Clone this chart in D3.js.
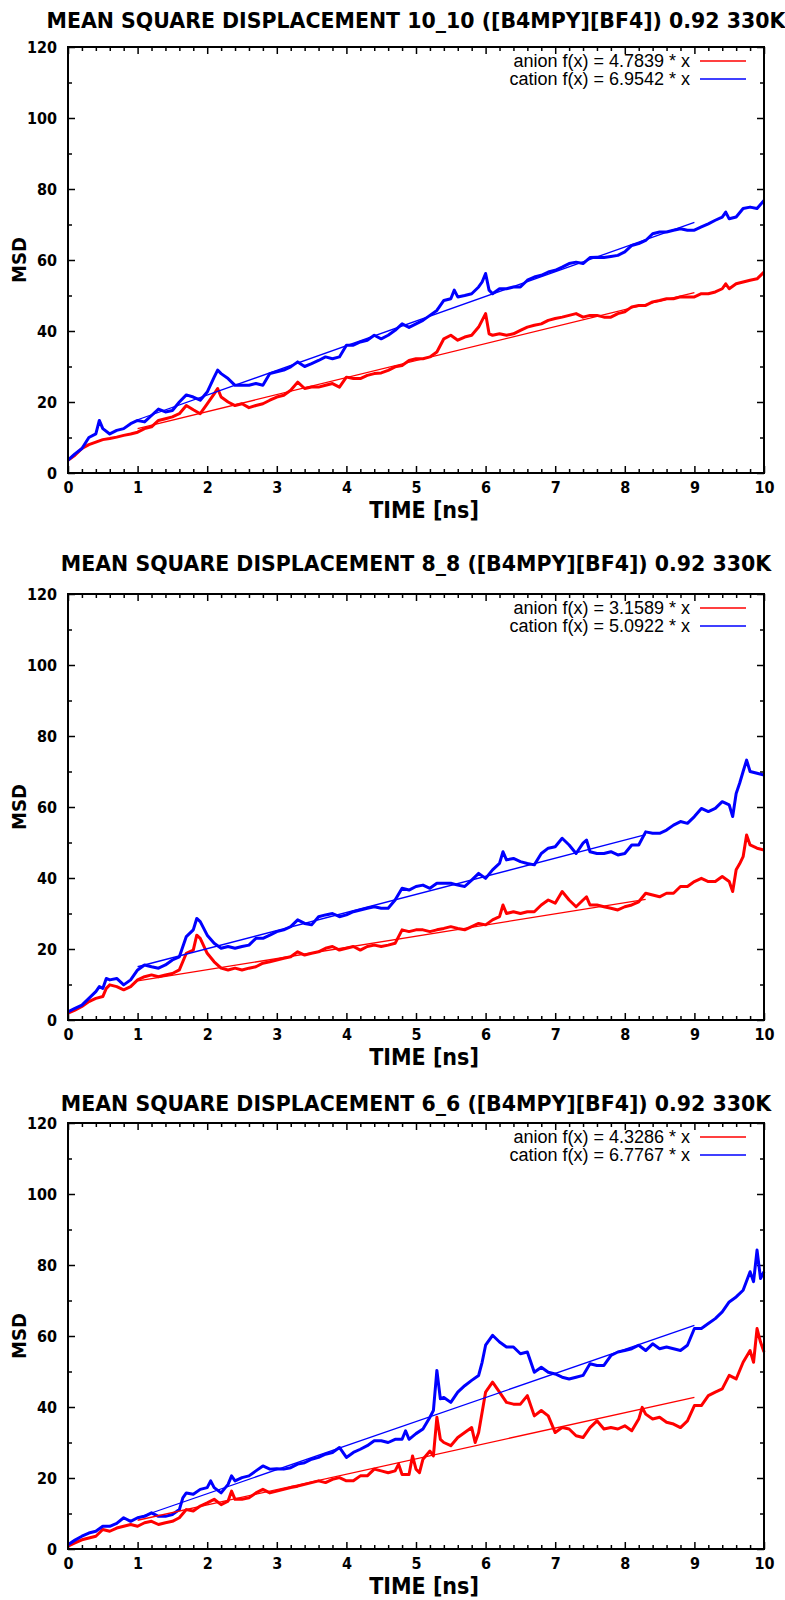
<!DOCTYPE html>
<html>
<head>
<meta charset="utf-8">
<script src="https://d3js.org/d3.v7.min.js"></script>
<style>
  body { margin: 0; background: #fff; }
  .frame { fill: none; stroke: #000; stroke-width: 2px; }
  .axis .domain { display: none; }
  .axis line { stroke: #000; stroke-width: 1.5px; }
  .axis text { font-family: "DejaVu Sans", sans-serif; font-stretch: condensed; font-weight: bold; font-size: 16px; fill: #000; }
  .title { font-family: "DejaVu Sans", sans-serif; font-weight: bold; font-size: 20.5px; }
  .label { font-family: "DejaVu Sans", sans-serif; font-stretch: condensed; font-weight: bold; font-size: 23px; }
  .ylabel { font-family: "DejaVu Sans", sans-serif; font-stretch: condensed; font-weight: bold; font-size: 20px; }
  .legend { font-family: "Liberation Sans", Arial, sans-serif; font-size: 18px; }
</style>
</head>
<body>
<svg id="chart" width="785" height="1600"></svg>
<script>
// ---- data: [time ns, MSD] ----
const xTicks = [0, 1, 2, 3, 4, 5, 6, 7, 8, 9, 10];
const yTicks = [0, 20, 40, 60, 80, 100, 120];

const anion10 = [[0,3.6],[0.1,5],[0.2,6.9],[0.3,8],[0.4,8.7],[0.5,9.4],[0.6,9.7],[0.7,10.1],[0.8,10.6],[0.9,11],
  [1,11.5],[1.1,12.5],[1.2,13],[1.3,14.8],[1.4,15.3],[1.5,15.8],[1.6,16.7],[1.7,19],[1.8,17.8],[1.9,16.7],
  [2,19.5],[2.1,22.3],[2.15,23.8],[2.2,21.4],[2.3,20],[2.4,19],[2.5,19.5],[2.6,18.4],[2.7,19],[2.8,19.5],[2.9,20.5],
  [3,21.4],[3.1,21.9],[3.2,23.3],[3.3,25.6],[3.4,23.8],[3.5,24.2],[3.6,24.2],[3.7,24.7],[3.8,25.2],[3.9,24.2],
  [4,27],[4.1,26.6],[4.2,26.6],[4.3,27.5],[4.4,28],[4.5,28.2],[4.6,28.9],[4.7,29.9],[4.8,30.3],[4.9,31.7],
  [5,32.2],[5.1,32.2],[5.2,32.7],[5.3,34.1],[5.4,37.8],[5.5,38.8],[5.6,37.4],[5.7,38.3],[5.8,38.8],[5.9,41.1],
  [6,44.9],[6.05,39.2],[6.1,38.8],[6.2,39.2],[6.3,38.8],[6.4,39.2],[6.5,40.2],[6.6,41.1],[6.7,41.6],[6.8,42],[6.9,43],
  [7,43.5],[7.1,43.9],[7.2,44.4],[7.3,44.9],[7.4,43.9],[7.5,44.4],[7.6,44.4],[7.7,43.9],[7.8,43.9],[7.9,44.9],
  [8,45.4],[8.1,46.8],[8.2,47.2],[8.3,47.2],[8.4,48.2],[8.5,48.6],[8.6,49.1],[8.7,49.1],[8.8,49.6],[8.9,49.6],
  [9,49.6],[9.1,50.5],[9.2,50.5],[9.3,51],[9.4,51.9],[9.45,53.3],[9.5,51.9],[9.6,53.3],[9.7,53.8],[9.8,54.3],[9.9,54.7],[10,56.6]];

const cation10 = [[0,3.6],[0.1,5.4],[0.2,6.9],[0.3,10],[0.4,11],[0.45,14.8],[0.5,12.5],[0.6,11],[0.7,12],[0.8,12.5],[0.9,13.9],
  [1,14.8],[1.1,14.4],[1.2,16.2],[1.3,18],[1.4,17.2],[1.5,17.6],[1.6,20],[1.7,22],[1.8,21.4],[1.9,20.5],
  [2,22.8],[2.1,27],[2.15,29],[2.2,28],[2.3,26.6],[2.4,24.7],[2.5,24.7],[2.6,24.7],[2.7,25.2],[2.8,24.7],[2.9,28],
  [3,28.5],[3.1,29],[3.2,29.9],[3.3,31.3],[3.4,30],[3.5,30.8],[3.6,31.7],[3.7,32.7],[3.8,32.2],[3.9,32.7],
  [4,36],[4.1,36],[4.2,36.9],[4.3,37.4],[4.4,38.8],[4.5,37.8],[4.6,38.8],[4.7,40.2],[4.8,42],[4.9,41],
  [5,42],[5.1,43],[5.2,44.4],[5.3,45.8],[5.4,48.6],[5.5,49.1],[5.55,51.5],[5.6,49.6],[5.7,50],[5.8,50.5],[5.9,52.4],[5.95,53.8],
  [6,56.2],[6.05,51.5],[6.1,50.5],[6.2,51.9],[6.3,51.9],[6.4,52.4],[6.5,52.4],[6.6,54.3],[6.7,55.2],[6.8,55.7],[6.9,56.6],
  [7,57.1],[7.1,58],[7.2,59],[7.3,59.4],[7.4,59],[7.5,60.7],[7.6,60.8],[7.7,60.7],[7.8,61],[7.9,61.3],
  [8,62.3],[8.1,64.1],[8.2,64.6],[8.3,65.5],[8.4,67.4],[8.5,67.9],[8.6,67.9],[8.7,68.4],[8.8,68.8],[8.9,68.4],
  [9,68.4],[9.1,69.3],[9.2,70.2],[9.3,71.2],[9.4,72.1],[9.45,73.5],[9.5,71.6],[9.6,72.1],[9.7,74.5],[9.8,74.9],[9.9,74.5],[10,76.8]];

const anion8 = [[0,1.9],[0.1,2.8],[0.2,3.8],[0.3,5.2],[0.4,6.1],[0.5,6.6],[0.55,8.9],[0.6,9.9],[0.7,9.4],[0.8,8.5],[0.9,9.4],
  [1,11.3],[1.1,12.2],[1.2,12.7],[1.3,12.2],[1.4,12.7],[1.5,13.1],[1.6,14.1],[1.7,18.8],[1.8,19.7],[1.85,23.9],[1.9,23],
  [2,18.8],[2.1,16.4],[2.2,14.6],[2.3,14.1],[2.4,14.6],[2.5,14.1],[2.6,14.6],[2.7,15],[2.8,16],[2.9,16.4],
  [3,16.9],[3.1,17.4],[3.2,17.8],[3.3,19.2],[3.4,18.3],[3.5,18.8],[3.6,19.2],[3.7,20.2],[3.8,20.7],[3.9,19.7],
  [4,20.2],[4.1,20.7],[4.2,19.7],[4.3,20.7],[4.4,21.1],[4.5,20.7],[4.6,21.1],[4.7,21.6],[4.8,25.4],[4.9,24.9],
  [5,25.4],[5.1,25.4],[5.2,24.9],[5.3,25.4],[5.4,25.8],[5.5,26.3],[5.6,25.8],[5.7,25.4],[5.8,26.3],[5.9,27.2],
  [6,26.8],[6.1,28.2],[6.2,29.1],[6.25,32.4],[6.3,30],[6.4,30.5],[6.5,30],[6.6,30.5],[6.7,30.5],[6.8,32.4],[6.9,33.8],
  [7,32.9],[7.1,36.2],[7.2,33.8],[7.3,31.9],[7.4,33.8],[7.45,34.7],[7.5,32.4],[7.6,32.4],[7.7,31.9],[7.8,31.5],[7.9,31],
  [8,31.9],[8.1,32.4],[8.2,33.3],[8.3,35.7],[8.4,35.2],[8.5,34.7],[8.6,35.7],[8.7,35.7],[8.8,37.6],[8.9,37.6],
  [9,39],[9.1,39.9],[9.2,39],[9.3,39],[9.4,40.4],[9.5,39],[9.55,36.2],[9.6,42.3],[9.65,44],[9.7,46],[9.75,52.1],[9.8,49.3],[9.9,48.4],[10,47.9]];

const cation8 = [[0,2.3],[0.1,3.3],[0.2,4.2],[0.3,6.1],[0.4,8],[0.45,9.4],[0.5,8.9],[0.55,11.7],[0.6,11.3],[0.7,11.7],[0.8,9.9],[0.9,11.3],
  [1,14.1],[1.1,15.5],[1.2,15],[1.3,14.6],[1.4,15.5],[1.5,16.9],[1.6,17.8],[1.7,23.5],[1.8,25.4],[1.85,28.6],[1.9,27.7],
  [2,23.9],[2.1,21.6],[2.2,20.2],[2.3,20.7],[2.4,20.2],[2.5,20.7],[2.6,21.1],[2.7,23],[2.8,23],[2.9,23.9],
  [3,24.9],[3.1,25.4],[3.2,26.3],[3.3,28.2],[3.4,27.2],[3.5,26.8],[3.6,29.1],[3.7,29.6],[3.8,30],[3.9,29.1],
  [4,29.6],[4.1,30.5],[4.2,31],[4.3,31.5],[4.4,31.9],[4.5,31.5],[4.6,31.5],[4.7,33.8],[4.8,37.1],[4.9,36.6],
  [5,37.6],[5.1,38],[5.2,37.1],[5.3,38.5],[5.4,38.5],[5.5,38.5],[5.6,38],[5.7,37.6],[5.8,39.4],[5.9,41.3],
  [6,39.9],[6.1,42.3],[6.2,44.1],[6.25,47.4],[6.3,45.1],[6.4,45.5],[6.5,44.6],[6.6,44.1],[6.7,43.7],[6.8,46.9],[6.9,48.4],
  [7,48.8],[7.1,51.2],[7.2,49.3],[7.3,46.9],[7.4,49.8],[7.45,50.7],[7.5,47.4],[7.6,46.9],[7.7,46.9],[7.8,47.4],[7.9,46.5],
  [8,46.9],[8.1,49.3],[8.2,49.3],[8.3,53],[8.4,52.6],[8.5,52.6],[8.6,53.5],[8.7,54.9],[8.8,55.9],[8.9,55.4],
  [9,57.3],[9.1,59.6],[9.2,58.7],[9.3,59.6],[9.4,61.5],[9.5,60.6],[9.55,57.3],[9.6,63.8],[9.65,66.7],[9.7,70],[9.75,73.2],[9.8,70],[9.9,69.5],[10,69]];

const anion6 = [[0,0.8],[0.1,1.7],[0.2,2.6],[0.3,3.1],[0.4,3.6],[0.5,5.5],[0.6,5],[0.7,5.9],[0.8,6.4],[0.9,6.9],
  [1,6.4],[1.1,7.4],[1.2,7.8],[1.3,6.9],[1.4,7.4],[1.5,7.8],[1.6,8.8],[1.7,11.1],[1.8,10.7],[1.9,12.1],
  [2,13],[2.1,14],[2.2,12.5],[2.3,13.5],[2.35,16.3],[2.4,14],[2.5,14],[2.6,14.4],[2.7,15.8],[2.8,16.8],[2.9,15.8],
  [3,16.3],[3.1,16.8],[3.2,17.3],[3.3,17.7],[3.4,18.2],[3.5,18.7],[3.6,19.2],[3.7,18.7],[3.8,19.6],[3.9,20.1],
  [4,19.2],[4.1,19.2],[4.2,20.6],[4.3,20.6],[4.4,22.5],[4.5,22],[4.6,21.5],[4.7,22],[4.75,23.9],[4.8,21],[4.9,21],[4.95,26.2],
  [5,22.5],[5.05,21.5],[5.1,25.3],[5.2,27.6],[5.25,26.2],[5.3,37.1],[5.35,30.9],[5.4,30],[5.5,29.1],[5.6,31.4],[5.7,32.8],[5.8,34.2],[5.85,30],[5.9,32.8],
  [6,44.2],[6.1,47],[6.2,44.2],[6.3,41.3],[6.4,40.8],[6.5,40.8],[6.6,43.2],[6.7,37.5],[6.8,39],[6.9,37.5],
  [7,32.8],[7.1,34.2],[7.2,33.8],[7.3,31.9],[7.4,31.4],[7.5,34.2],[7.6,36.1],[7.7,33.8],[7.8,34.2],[7.9,33.8],
  [8,34.7],[8.1,33.3],[8.2,36.6],[8.25,39.9],[8.3,38],[8.4,36.6],[8.5,37.1],[8.6,35.7],[8.7,35.2],[8.8,34.2],[8.9,36.1],
  [9,40.4],[9.1,40.4],[9.2,43.2],[9.3,44.2],[9.4,45.1],[9.5,48.9],[9.6,47.9],[9.7,52.6],[9.8,55.9],[9.85,52.6],[9.9,62.1],[9.95,58.3],[10,55.5]];

const cation6 = [[0,1.2],[0.1,2.5],[0.2,3.6],[0.3,4.5],[0.4,5],[0.5,6.4],[0.6,6.4],[0.7,7.2],[0.8,8.8],[0.9,7.8],
  [1,8.8],[1.1,9.2],[1.2,10.2],[1.3,9.2],[1.4,9.2],[1.5,9.7],[1.6,11.1],[1.65,14.4],[1.7,15.8],[1.8,15.4],[1.9,16.8],
  [2,17.3],[2.05,19.2],[2.1,17.3],[2.2,15.8],[2.3,18.2],[2.35,20.6],[2.4,19.2],[2.5,20.1],[2.6,20.6],[2.7,22],[2.8,23.4],[2.9,22.5],
  [3,22.6],[3.1,22.5],[3.2,22.9],[3.3,23.9],[3.4,24.3],[3.5,25.3],[3.6,25.8],[3.7,26.7],[3.8,27.2],[3.9,28.6],
  [4,25.8],[4.1,27.2],[4.2,28.1],[4.3,29.1],[4.4,30.5],[4.5,30.5],[4.6,30],[4.7,30.9],[4.8,30.9],[4.85,33.3],[4.9,30.9],
  [5,32.5],[5.1,33.8],[5.2,37.1],[5.25,39],[5.3,50.3],[5.35,42.3],[5.4,42.7],[5.5,41.3],[5.6,44.2],[5.7,46],[5.8,47.5],[5.9,48.9],[5.95,52.6],
  [6,57.4],[6.1,60.2],[6.2,58.3],[6.3,56.9],[6.4,56.9],[6.5,55],[6.6,55.5],[6.7,49.8],[6.8,51.2],[6.9,49.8],
  [7,49.3],[7.1,48.4],[7.2,47.9],[7.3,48.4],[7.4,48.9],[7.5,52.2],[7.6,51.7],[7.7,51.7],[7.8,54.5],[7.9,55.5],
  [8,55.9],[8.1,56.4],[8.2,57.4],[8.3,55.9],[8.4,57.8],[8.5,56.4],[8.6,56.9],[8.7,56.4],[8.8,55.9],[8.9,57.4],
  [9,62.1],[9.1,62.1],[9.2,63.5],[9.3,64.9],[9.4,66.8],[9.5,69.6],[9.6,71],[9.7,72.9],[9.8,78.1],[9.85,75.3],[9.9,84.2],[9.95,76.2],[10,78.1]];

// fitted lines, end points
const anionFit10 = [[1, 12.5], [9, 50.8]];
const cationFit10 = [[1, 15.0], [9, 70.6]];
const anionFit8 = [[1, 11.0], [8.3, 34.0]];
const cationFit8 = [[1, 15.0], [8.3, 52.2]];
const anionFit6 = [[1, 8.1], [9, 42.7]];
const cationFit6 = [[1, 8.8], [9, 63.0]];

const slopes = [["4.7839", "6.9542"], ["3.1589", "5.0922"], ["4.3286", "6.7767"]];
const titles = [
  "MEAN SQUARE DISPLACEMENT 10_10 ([B4MPY][BF4]) 0.92 330K",
  "MEAN SQUARE DISPLACEMENT 8_8 ([B4MPY][BF4]) 0.92 330K",
  "MEAN SQUARE DISPLACEMENT 6_6 ([B4MPY][BF4]) 0.92 330K"
];

const panels = [
  { top: 47,   titleGap: 19, anion: anion10, cation: cation10, anionFit: anionFit10, cationFit: cationFit10 },
  { top: 594,  titleGap: 23, anion: anion8,  cation: cation8,  anionFit: anionFit8,  cationFit: cationFit8 },
  { top: 1123, titleGap: 12, anion: anion6,  cation: cation6,  anionFit: anionFit6,  cationFit: cationFit6 }
];

const svg = d3.select("#chart");
const left = 68, right = 764, plotH = 426;
const red = "#ff0000", blue = "#0000ff";

panels.forEach((p, i) => {
  const bottom = p.top + plotH;
  const x = d3.scaleLinear().domain([0, 10]).range([left, right]);
  const y = d3.scaleLinear().domain([0, 120]).range([bottom, p.top]);
  const g = svg.append("g");

  g.append("text").attr("class", "title")
    .attr("x", (left + right) / 2).attr("y", p.top - p.titleGap)
    .attr("text-anchor", "middle").text(titles[i]);

  // minor + major ticks, all pointing inward
  const xMinor = d3.range(0, 10.01, 0.2).filter(v => Math.abs(v - Math.round(v)) > 0.01);
  const yMinor = d3.range(10, 120, 20);

  g.append("g").attr("class", "axis").attr("transform", `translate(0,${bottom})`)
    .call(d3.axisBottom(x).tickValues(xTicks).tickSize(-7).tickPadding(9).tickFormat(d3.format("d")));
  g.append("g").attr("class", "axis").attr("transform", `translate(0,${bottom})`)
    .call(d3.axisBottom(x).tickValues(xMinor).tickSize(-4).tickFormat(""));
  g.append("g").attr("class", "axis").attr("transform", `translate(0,${p.top})`)
    .call(d3.axisTop(x).tickValues(xTicks).tickSize(-7).tickFormat(""));
  g.append("g").attr("class", "axis").attr("transform", `translate(0,${p.top})`)
    .call(d3.axisTop(x).tickValues(xMinor).tickSize(-4).tickFormat(""));

  g.append("g").attr("class", "axis").attr("transform", `translate(${left},0)`)
    .call(d3.axisLeft(y).tickValues(yTicks).tickSize(-7).tickPadding(11));
  g.append("g").attr("class", "axis").attr("transform", `translate(${left},0)`)
    .call(d3.axisLeft(y).tickValues(yMinor).tickSize(-4).tickFormat(""));
  g.append("g").attr("class", "axis").attr("transform", `translate(${right},0)`)
    .call(d3.axisRight(y).tickValues(yTicks).tickSize(-7).tickFormat(""));
  g.append("g").attr("class", "axis").attr("transform", `translate(${right},0)`)
    .call(d3.axisRight(y).tickValues(yMinor).tickSize(-4).tickFormat(""));

  g.append("text").attr("class", "label")
    .attr("x", 424).attr("y", Math.min(bottom + 45, 1595))
    .attr("text-anchor", "middle").text("TIME [ns]");
  g.append("text").attr("class", "ylabel")
    .attr("transform", `translate(26,${(p.top + bottom) / 2}) rotate(-90)`)
    .attr("text-anchor", "middle").text("MSD");

  const line = d3.line().x(d => x(d[0])).y(d => y(d[1]));

  const plot = g.append("g");
  plot.append("path").datum(p.anion).attr("d", line)
    .attr("fill", "none").attr("stroke", red).attr("stroke-width", 3).attr("stroke-linejoin", "round");
  plot.append("path").datum(p.cation).attr("d", line)
    .attr("fill", "none").attr("stroke", blue).attr("stroke-width", 3).attr("stroke-linejoin", "round");
  plot.append("path").datum(p.anionFit).attr("d", line)
    .attr("fill", "none").attr("stroke", red).attr("stroke-width", 1.3);
  plot.append("path").datum(p.cationFit).attr("d", line)
    .attr("fill", "none").attr("stroke", blue).attr("stroke-width", 1.3);

  // legend
  const legendRows = [
    { name: "anion", slope: slopes[i][0], color: red },
    { name: "cation", slope: slopes[i][1], color: blue }
  ];
  const leg = g.selectAll("g.leg").data(legendRows).join("g")
    .attr("class", "leg")
    .attr("transform", (d, k) => `translate(0,${p.top + 14 + k * 18})`);
  leg.append("text").attr("class", "legend")
    .attr("x", 690).attr("dy", "0.35em").attr("text-anchor", "end")
    .text(d => `${d.name} f(x) = ${d.slope} * x`);
  leg.append("line").attr("x1", 700).attr("x2", 746)
    .attr("stroke", d => d.color).attr("stroke-width", 1.3);

  g.append("rect").attr("class", "frame")
    .attr("x", left).attr("y", p.top).attr("width", right - left).attr("height", plotH);
});
</script>
</body>
</html>
